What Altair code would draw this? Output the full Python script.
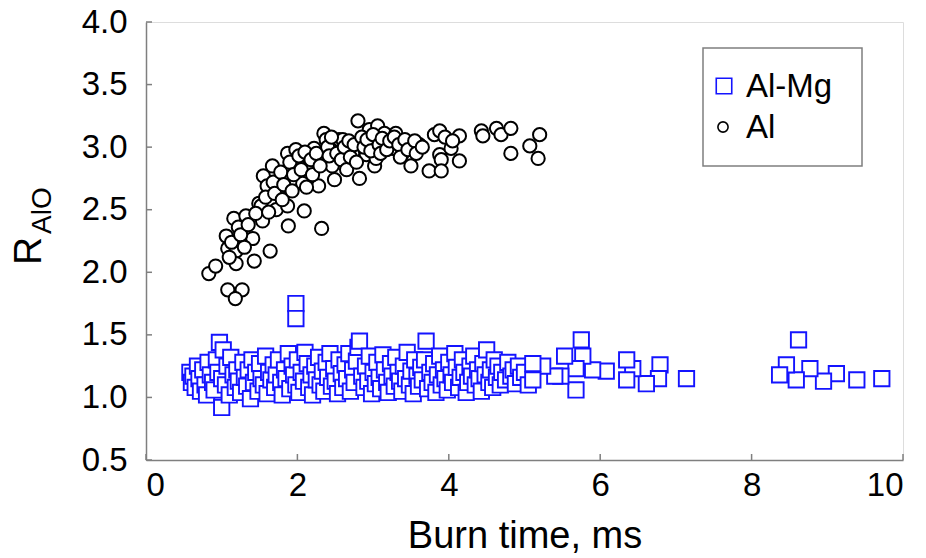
import altair as alt
import pandas as pd

# ---- Al (circles) ----
al_x = [0.83, 0.92, 1.08, 1.27, 1.18, 1.06, 1.08, 1.16, 1.19, 1.19, 1.22, 1.32, 1.41, 1.43, 1.49,
        1.52, 1.54, 1.55, 1.64, 1.60, 1.67, 1.72, 1.76, 1.85, 1.87, 1.87, 1.88, 1.98, 2.00, 2.07,
        2.09, 2.16, 2.22, 2.28, 2.32, 2.33, 2.35, 2.38, 2.46, 2.49, 2.55, 2.60, 2.73, 2.80, 2.82,
        2.91, 2.95, 2.99, 3.02, 3.04, 3.06, 3.15, 3.26, 3.30, 3.39, 3.50, 3.52, 3.61, 3.74, 3.81,
        3.88, 3.88, 3.90, 3.90, 4.03, 4.14, 4.14, 4.43, 4.45, 4.63, 4.69, 4.82, 4.82, 5.07, 5.20,
        5.18,
        1.10, 1.13, 1.25, 1.30, 1.35, 1.45, 1.58, 1.62, 1.68, 1.70, 1.78, 1.80, 1.82, 1.90, 1.93,
        1.95, 2.02, 2.05, 2.10, 2.12, 2.18, 2.20, 2.25, 2.30, 2.40, 2.42, 2.45, 2.52, 2.58, 2.62,
        2.65, 2.68, 2.70, 2.75, 2.78, 2.85, 2.88, 2.92, 2.97, 3.00, 3.08, 3.10, 3.12, 3.18, 3.22,
        3.28, 3.34, 3.36, 3.42, 3.46, 3.55, 3.57, 3.65, 3.95, 4.05]
al_y = [1.99, 2.05, 1.86, 1.86, 1.79, 2.29, 2.19, 2.43, 2.17, 2.07, 2.36, 2.45, 2.27, 2.09, 2.55,
        2.53, 2.41, 2.77, 2.17, 2.69, 2.85, 2.50, 2.67, 2.79, 2.95, 2.53, 2.37, 2.98, 2.86, 2.71,
        2.49, 2.83, 2.99, 2.69, 2.35, 2.89, 3.11, 3.06, 2.85, 2.74, 3.06, 3.06, 2.95, 3.21, 2.75,
        2.94, 3.14, 3.03, 2.85, 2.91, 3.17, 3.11, 2.99, 3.11, 2.95, 2.85, 3.03, 3.02, 2.81, 3.10,
        3.13, 2.94, 2.90, 2.81, 2.99, 3.09, 2.89, 3.13, 3.09, 3.15, 3.10, 3.15, 2.95, 3.01, 3.10,
        2.91,
        2.12, 2.24, 2.30, 2.20, 2.38, 2.47, 2.60, 2.48, 2.72, 2.63, 2.80, 2.58, 2.70, 2.88, 2.65,
        2.78, 2.93, 2.82, 2.96, 2.68, 2.90, 2.78, 2.95, 2.85, 3.00, 2.93, 3.08, 2.95, 2.90, 3.00,
        2.82, 3.05, 2.92, 3.02, 2.88, 3.08, 3.00, 3.06, 2.97, 3.10, 3.02, 2.95, 3.07, 2.98, 3.05,
        3.08, 3.02, 2.92, 3.06, 2.98, 3.05, 2.95, 3.00, 3.08, 3.05]

# ---- Al-Mg (squares) ----
almg_x = [0.58, 0.60, 0.62, 0.65, 0.68, 0.70, 0.72, 0.75, 0.78, 0.80, 0.82, 0.85, 0.88, 0.90, 0.93,
          0.95, 0.97, 1.00, 1.00, 1.02, 1.05, 1.07, 1.10, 1.12, 1.15, 1.18, 1.20, 1.22, 1.25, 1.28,
          1.30, 1.33, 1.35, 1.38, 1.40, 1.42, 1.45, 1.48, 1.50, 1.52, 1.55, 1.58, 1.60, 1.62, 1.65,
          1.68, 1.70, 1.72, 1.75, 1.78, 1.80, 1.83, 1.85, 1.88, 1.90, 1.93, 1.95, 1.98, 2.00, 2.02,
          2.05, 2.08, 2.10, 2.13, 2.15, 2.18, 2.20, 2.23, 2.25, 2.28, 2.30, 2.33, 2.35, 2.38, 2.40,
          2.43, 2.45, 2.48, 2.50, 2.53, 2.55, 2.58, 2.60, 2.63, 2.65, 2.68, 2.70, 2.73, 2.75, 2.78,
          2.80, 2.82, 2.85, 2.88, 2.90, 2.93, 2.95, 2.98, 3.00, 3.03, 3.05, 3.08, 3.10, 3.13, 3.15,
          3.18, 3.20, 3.23, 3.25, 3.28, 3.30, 3.33, 3.35, 3.38, 3.40, 3.43, 3.45, 3.48, 3.50, 3.53,
          3.55, 3.58, 3.60, 3.63, 3.65, 3.68, 3.70, 3.72, 3.75, 3.78, 3.80, 3.83, 3.85, 3.88, 3.90,
          3.93, 3.95, 3.98, 4.00, 4.03, 4.05, 4.08, 4.10, 4.13, 4.15, 4.18, 4.20, 4.23, 4.25, 4.28,
          4.30, 4.33, 4.35, 4.38, 4.40, 4.43, 4.45, 4.48, 4.50, 4.53, 4.55, 4.58, 4.60, 4.63, 4.65,
          4.68, 4.70, 4.75, 4.78, 4.82, 4.85, 4.88, 4.92, 4.95, 5.00, 5.05,
          1.98, 1.98, 5.75, 5.68, 7.14, 8.62, 9.72, 9.39, 9.12, 8.95, 8.77, 8.59, 8.46, 8.37, 6.79,
          6.77, 6.61, 6.43, 6.35, 6.35, 6.08, 5.90, 5.77, 5.68, 5.53, 5.48, 5.40, 5.24, 5.11, 5.11]
almg_y = [1.20, 1.12, 1.17, 1.08, 1.25, 1.15, 1.05, 1.22, 1.10, 1.02, 1.28, 1.18, 1.12, 1.06, 1.30,
          1.20, 1.44, 0.92, 1.15, 1.38, 1.10, 1.25, 1.02, 1.32, 1.18, 1.08, 1.22, 1.13, 1.04, 1.28,
          1.16, 1.09, 1.22, 0.99, 1.30, 1.12, 1.20, 1.05, 1.27, 1.15, 1.10, 1.33, 1.03, 1.20, 1.14,
          1.26, 1.08, 1.18, 1.30, 1.12, 1.02, 1.22, 1.15, 1.35, 1.07, 1.25, 1.18, 1.10, 1.30, 1.04,
          1.20, 1.13, 1.36, 1.27, 1.08, 1.18, 1.02, 1.25, 1.14, 1.32, 1.10, 1.21, 1.05, 1.28, 1.16,
          1.35, 1.09, 1.23, 1.13, 1.03, 1.30, 1.19, 1.08, 1.26, 1.15, 1.35, 1.05, 1.22, 1.12, 1.29,
          1.40, 1.45, 1.17, 1.08, 1.25, 1.13, 1.33, 1.03, 1.20, 1.11, 1.28, 1.16, 1.07, 1.34, 1.22,
          1.12, 1.04, 1.27, 1.17, 1.09, 1.32, 1.20, 1.13, 1.05, 1.25, 1.15, 1.36, 1.10, 1.21, 1.03,
          1.30, 1.17, 1.09, 1.24, 1.14, 1.30, 1.45, 1.07, 1.20, 1.12, 1.27, 1.04, 1.18, 1.33, 1.10,
          1.22, 1.15, 1.06, 1.28, 1.18, 1.12, 1.35, 1.24, 1.08, 1.16, 1.30, 1.20, 1.04, 1.12, 1.25,
          1.17, 1.33, 1.10, 1.22, 1.15, 1.05, 1.27, 1.18, 1.38, 1.12, 1.22, 1.08, 1.30, 1.16, 1.25,
          1.10, 1.20, 1.14, 1.28, 1.17, 1.22, 1.11, 1.25, 1.16, 1.20, 1.10,
          1.75, 1.63, 1.46, 1.06, 1.15, 1.46, 1.15, 1.14, 1.19, 1.13, 1.23, 1.14, 1.26, 1.18, 1.26,
          1.15, 1.11, 1.23, 1.30, 1.14, 1.21, 1.22, 1.33, 1.23, 1.33, 1.17, 1.17, 1.25, 1.14, 1.27]

# axis tick values
x_ticks = [0, 2, 4, 6, 8, 10]
y_ticks = [0.5, 1.0, 1.5, 2.0, 2.5, 3.0, 3.5, 4.0]

FONT = "Liberation Sans"
GRAY = "#7f7f7f"
BLUE = "#1414ff"
W, H = 757, 438

df_al = pd.DataFrame({"t": al_x, "r": al_y})
df_mg = pd.DataFrame({"t": almg_x, "r": almg_y})
df_xt = pd.DataFrame({"t": x_ticks})
df_yt = pd.DataFrame({"r": y_ticks})
one = pd.DataFrame({"k": [0]})

xscale = alt.Scale(domain=[0, 10], nice=False, zero=False)
yscale = alt.Scale(domain=[0.5, 4.0], nice=False, zero=False)

xaxis = alt.Axis(values=x_ticks, format="d", grid=False, ticks=False, tickSize=0,
                 labelFontSize=33, labelFont=FONT, labelColor="black",
                 domainColor=GRAY, domainWidth=1.5, labelPadding=9,
                 title="Burn time, ms", titleFontSize=38, titleFont=FONT,
                 titleFontWeight="normal", titleColor="black", titlePadding=15)
yaxis = alt.Axis(values=y_ticks, format=".1f", grid=False, ticks=False, tickSize=0,
                 labelFontSize=33, labelFont=FONT, labelColor="black",
                 domainColor=GRAY, domainWidth=1.5, labelPadding=19,
                 title=None)

X = alt.X("t:Q", scale=xscale, axis=xaxis)
Y = alt.Y("r:Q", scale=yscale, axis=yaxis)

# inward ticks
xtick_rules = alt.Chart(df_xt).mark_rule(color=GRAY, strokeWidth=1.5).encode(
    x=X, y=alt.value(H), y2=alt.value(H - 6))
ytick_rules = alt.Chart(df_yt).mark_rule(color=GRAY, strokeWidth=1.5).encode(
    y=Y, x=alt.value(0), x2=alt.value(6))

squares = alt.Chart(df_mg).mark_point(shape="square", filled=True, fill="white",
                                      stroke=BLUE, strokeWidth=1.9, size=235, opacity=1).encode(
    x=X, y=Y)
circles = alt.Chart(df_al).mark_point(shape="circle", filled=True, fill="white",
                                      stroke="black", strokeWidth=2.0, size=175, opacity=1).encode(
    x=X, y=Y)

# legend (box, symbols, labels)
leg_box = alt.Chart(one).mark_rect(fill="white", stroke=GRAY, strokeWidth=1.5).encode(
    x=alt.value(557), x2=alt.value(716), y=alt.value(26), y2=alt.value(144))
leg_sq = alt.Chart(one).mark_point(shape="square", filled=True, fill="white", stroke=BLUE,
                                   strokeWidth=1.6, size=240, opacity=1).encode(
    x=alt.value(578), y=alt.value(64))
leg_ci = alt.Chart(one).mark_point(shape="circle", filled=True, fill="white", stroke="black",
                                   strokeWidth=1.6, size=104, opacity=1).encode(
    x=alt.value(577), y=alt.value(105))
leg_t1 = alt.Chart(one).mark_text(text="Al-Mg", font=FONT, fontSize=33, align="left",
                                  baseline="alphabetic", color="black").encode(
    x=alt.value(600), y=alt.value(75))
leg_t2 = alt.Chart(one).mark_text(text="Al", font=FONT, fontSize=33, align="left",
                                  baseline="alphabetic", color="black").encode(
    x=alt.value(600), y=alt.value(116))

# y title R with subscript AlO
ytitle_r = alt.Chart(one).mark_text(text="R", font=FONT, fontSize=39, angle=270, align="left",
                                    baseline="alphabetic", color="black").encode(
    x=alt.value(-105), y=alt.value(243))
ytitle_sub = alt.Chart(one).mark_text(text="AlO", font=FONT, fontSize=28, angle=270, align="left",
                                      baseline="alphabetic", color="black").encode(
    x=alt.value(-95), y=alt.value(212))

chart = alt.layer(xtick_rules, ytick_rules, squares, circles, leg_box, leg_sq, leg_ci,
                  leg_t1, leg_t2, ytitle_r, ytitle_sub).properties(
    width=W, height=H,
    padding={"left": 146, "top": 22, "right": 23, "bottom": 98},
    autosize=alt.AutoSizeParams(type="none"),
).configure_view(stroke=GRAY, strokeWidth=1.5).configure(background="white")

chart.save("out.html", embed_options={"renderer": "svg", "actions": False})
